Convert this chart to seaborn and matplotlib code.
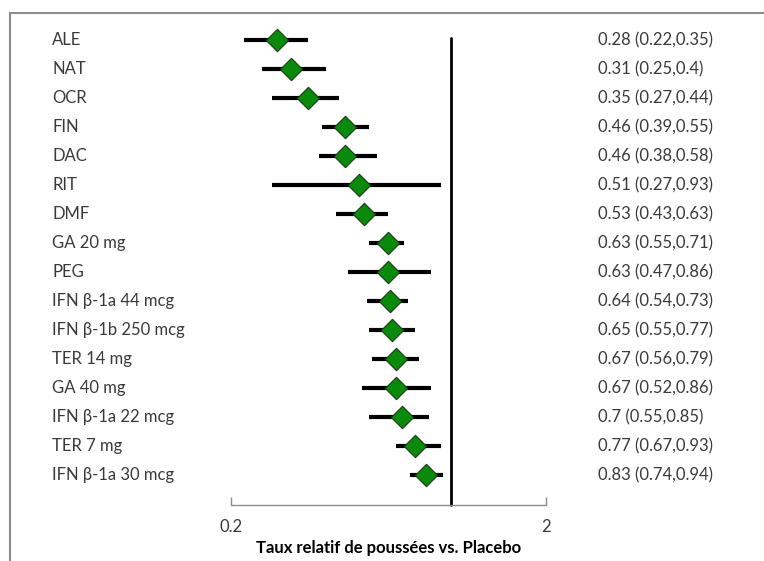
import numpy as np
import pandas as pd
import seaborn as sns
import matplotlib.pyplot as plt
from matplotlib.patches import Rectangle

# Forest plot data: relative relapse rate vs placebo
treatments = ["ALE", "NAT", "OCR", "FIN", "DAC", "RIT", "DMF", "GA 20 mg", "PEG",
              "IFN β-1a 44 mcg", "IFN β-1b 250 mcg", "TER 14 mg", "GA 40 mg",
              "IFN β-1a 22 mcg", "TER 7 mg", "IFN β-1a 30 mcg"]
rate = [0.28, 0.31, 0.35, 0.46, 0.46, 0.51, 0.53, 0.63, 0.63, 0.64, 0.65, 0.67, 0.67, 0.7, 0.77, 0.83]
lower = [0.22, 0.25, 0.27, 0.39, 0.38, 0.27, 0.43, 0.55, 0.47, 0.54, 0.55, 0.56, 0.52, 0.55, 0.67, 0.74]
upper = [0.35, 0.4, 0.44, 0.55, 0.58, 0.93, 0.63, 0.71, 0.86, 0.73, 0.77, 0.79, 0.86, 0.85, 0.93, 0.94]
ci_text = ["0.28 (0.22,0.35)", "0.31 (0.25,0.4)", "0.35 (0.27,0.44)", "0.46 (0.39,0.55)",
           "0.46 (0.38,0.58)", "0.51 (0.27,0.93)", "0.53 (0.43,0.63)", "0.63 (0.55,0.71)",
           "0.63 (0.47,0.86)", "0.64 (0.54,0.73)", "0.65 (0.55,0.77)", "0.67 (0.56,0.79)",
           "0.67 (0.52,0.86)", "0.7 (0.55,0.85)", "0.77 (0.67,0.93)", "0.83 (0.74,0.94)"]

df = pd.DataFrame({"treatment": treatments, "rate": rate, "lower": lower, "upper": upper,
                   "pos": np.arange(len(treatments))})

sns.set_style("white")
plt.rcParams['font.family'] = ['Lato', 'DejaVu Sans']
txt = "#3a3a3a"

W, H = 764, 561
fig = plt.figure(figsize=(W / 100, H / 100), dpi=100)
# axes from x=231..546 px, y=25..505 px
ax = fig.add_axes([231 / W, 1 - 505 / H, (546 - 231) / W, (505 - 25) / H])

# outer grey frame
fig.patches.append(Rectangle((10 / W, -0.1), 1.2, 1.1 - 13 / H, transform=fig.transFigure,
                             fill=False, edgecolor="#8c8c8c", linewidth=1.5))

ax.hlines(df["pos"], df["lower"], df["upper"], color="black", linewidth=3, zorder=2)
sns.scatterplot(data=df, x="rate", y="pos", marker="D", s=130, color="#0a8a0a",
                edgecolor="#1a3a1a", linewidth=0.8, zorder=3, ax=ax, legend=False)

ybot = (505 - 40) / 29
ax.set_xscale("log")
ax.set_xlim(0.2, 2)
ax.set_ylim(ybot, -(40 - 25) / 29)
ax.plot([1, 1], [-0.07, ybot], color="black", linewidth=2, zorder=1, clip_on=False)

ax.set_xticks([0.2, 2])
ax.set_xticklabels(["0.2", "2"])
ax.xaxis.set_minor_locator(plt.NullLocator())
ax.set_yticks([])
ax.tick_params(axis="x", bottom=True, direction="in", length=6, width=1, color="#8c8c8c",
               labelcolor=txt, labelsize=12, pad=10)
for s in ["top", "right", "left"]:
    ax.spines[s].set_visible(False)
ax.spines["bottom"].set_color("#8c8c8c")
ax.spines["bottom"].set_linewidth(1)

for i, (name, ci) in enumerate(zip(treatments, ci_text)):
    ax.text((52 - 231) / 315, i, name, transform=ax.get_yaxis_transform(), ha="left",
            va="center", fontsize=12, color=txt)
    ax.text((598 - 231) / 315, i, ci, transform=ax.get_yaxis_transform(), ha="left",
            va="center", fontsize=12, color=txt)

ax.set_xlabel("Taux relatif de poussées vs. Placebo", fontsize=12, fontweight="bold",
              color="black", labelpad=4)
ax.set_ylabel("")

fig.savefig("out.png", dpi=100)
